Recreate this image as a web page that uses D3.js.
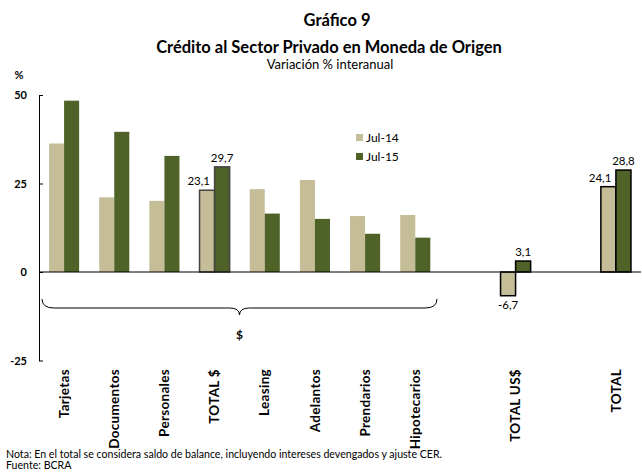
<!DOCTYPE html>
<html><head><meta charset="utf-8">
<script src="https://cdn.jsdelivr.net/npm/d3@7/dist/d3.min.js"></script>
<style>body{margin:0;background:#fff}svg{display:block}text{font-family:Lato,"Open Sans",sans-serif}</style>
</head><body><svg id="c" width="642" height="475"></svg>
<script>
const categories = ["Tarjetas","Documentos","Personales","TOTAL $","Leasing","Adelantos","Prendarios","Hipotecarios","","TOTAL US$"," ","TOTAL"];
const jul14 = [36.3,21.1,20.1,23.1,23.4,26.0,15.8,16.1,null,-6.7,null,24.1];
const jul15 = [48.4,39.6,32.8,29.7,16.5,15.0,10.8,9.7,null,3.1,null,28.8];
const seriesNames = ["Jul-14","Jul-15"];
const yTicks = [50,25,0,-25];
const labeled = ["TOTAL $","TOTAL US$","TOTAL"];

const svg = d3.select("#c");
const c14 = "#C4BD97", c15 = "#4F6228";
const x = d3.scaleBand().domain(categories).range([39,641]).paddingInner(0.4).paddingOuter(0.2);
const y = d3.scaleLinear().domain([-25,50]).range([360.5,95]);
const bw = x.bandwidth()/2;
const fmt = v=>d3.format(".1f")(v).replace(".",",").replace("\u2212","-");

// titles
svg.append("text").attr("x",337).attr("y",26).attr("text-anchor","middle").attr("font-weight","bold").attr("font-size",16.5).text("Gráfico 9");
svg.append("text").attr("x",329).attr("y",53).attr("text-anchor","middle").attr("font-weight","bold").attr("font-size",16.5).text("Crédito al Sector Privado en Moneda de Origen");
svg.append("text").attr("x",330).attr("y",69).attr("text-anchor","middle").attr("font-size",13).text("Variación % interanual");
svg.append("text").attr("x",19).attr("y",79).attr("text-anchor","middle").attr("font-size",11).attr("font-weight","bold").text("%");

// y axis
const ya = svg.append("g").attr("transform","translate(39,0)")
  .call(d3.axisLeft(y).tickValues(yTicks).tickSizeInner(-4).tickSizeOuter(0).tickPadding(12).tickFormat(d=>String(d)));
ya.select(".domain").attr("stroke","#000");
ya.selectAll("text").attr("font-weight","bold").attr("font-size",11).attr("font-family","Lato,sans-serif").attr("fill","#000");

// bars
const data = categories.map((c,i)=>({c,i,a:jul14[i],b:jul15[i]}));
const g = svg.append("g");
data.forEach(d=>{
  if(d.a===null) return;
  const strong = labeled.includes(d.c);
  const stroke = d.c==="TOTAL $" ? "#444" : "#000";
  [[d.a,c14,0],[d.b,c15,1]].forEach(([v,col,k])=>{
    g.append("rect").attr("x",x(d.c)+k*bw).attr("width",bw)
      .attr("y",y(Math.max(0,v))).attr("height",Math.abs(y(v)-y(0)))
      .attr("fill",col)
      .attr("stroke",strong?stroke:"none").attr("stroke-width",strong?1.5:0);
  });
  if(strong){
    if(d.a>=0){
      svg.append("text").attr("x",x(d.c)+bw*0.5+3).attr("y",y(d.a)-5).attr("text-anchor","end").attr("font-size",11.5).text(fmt(d.a));
    } else {
      svg.append("text").attr("x",x(d.c)+bw*0.5).attr("y",y(d.a)+13).attr("text-anchor","middle").attr("font-size",11.5).text(fmt(d.a));
    }
    svg.append("text").attr("x",x(d.c)+bw*1.5).attr("y",y(d.b)-5).attr("text-anchor","middle").attr("font-size",11.5).text(fmt(d.b));
  }
});

// zero line
svg.append("line").attr("x1",39).attr("x2",641).attr("y1",y(0)).attr("y2",y(0)).attr("stroke","#000").attr("stroke-width",1.2);

// x labels
categories.forEach(c=>{
  if(!c.trim()) return;
  svg.append("text").attr("transform",`translate(${x(c)+x.bandwidth()/2},369) rotate(-90)`)
    .attr("text-anchor","end").attr("dy","0.35em").attr("font-weight","bold").attr("font-size",13.5)
    .attr("letter-spacing",0.3).text(c);
});

// brace
const bx1 = 42, bx2 = 437, by = 299, bm = (bx1+bx2)/2;
svg.append("path").attr("fill","none").attr("stroke","#000").attr("stroke-width",1)
  .attr("d",`M${bx1},${by} Q${bx1},${by+9} ${bx1+12},${by+9} L${bm-10},${by+9} Q${bm},${by+9} ${bm},${by+16} Q${bm},${by+9} ${bm+10},${by+9} L${bx2-12},${by+9} Q${bx2},${by+9} ${bx2},${by}`);
svg.append("text").attr("x",bm).attr("y",339).attr("text-anchor","middle").attr("font-weight","bold").attr("font-size",12).text("$");

// legend
seriesNames.forEach((s,i)=>{
  svg.append("rect").attr("x",356).attr("y",134+i*19).attr("width",7).attr("height",7).attr("fill",i?c15:c14);
  svg.append("text").attr("x",366).attr("y",141.5+i*19).attr("font-size",12).text(s);
});

// notes
svg.append("text").attr("x",6).attr("y",458).attr("font-size",10.6).text("Nota: En el total se considera saldo de balance, incluyendo intereses devengados y ajuste CER.");
svg.append("text").attr("x",6).attr("y",469).attr("font-size",10.6).text("Fuente: BCRA");
</script></body></html>
